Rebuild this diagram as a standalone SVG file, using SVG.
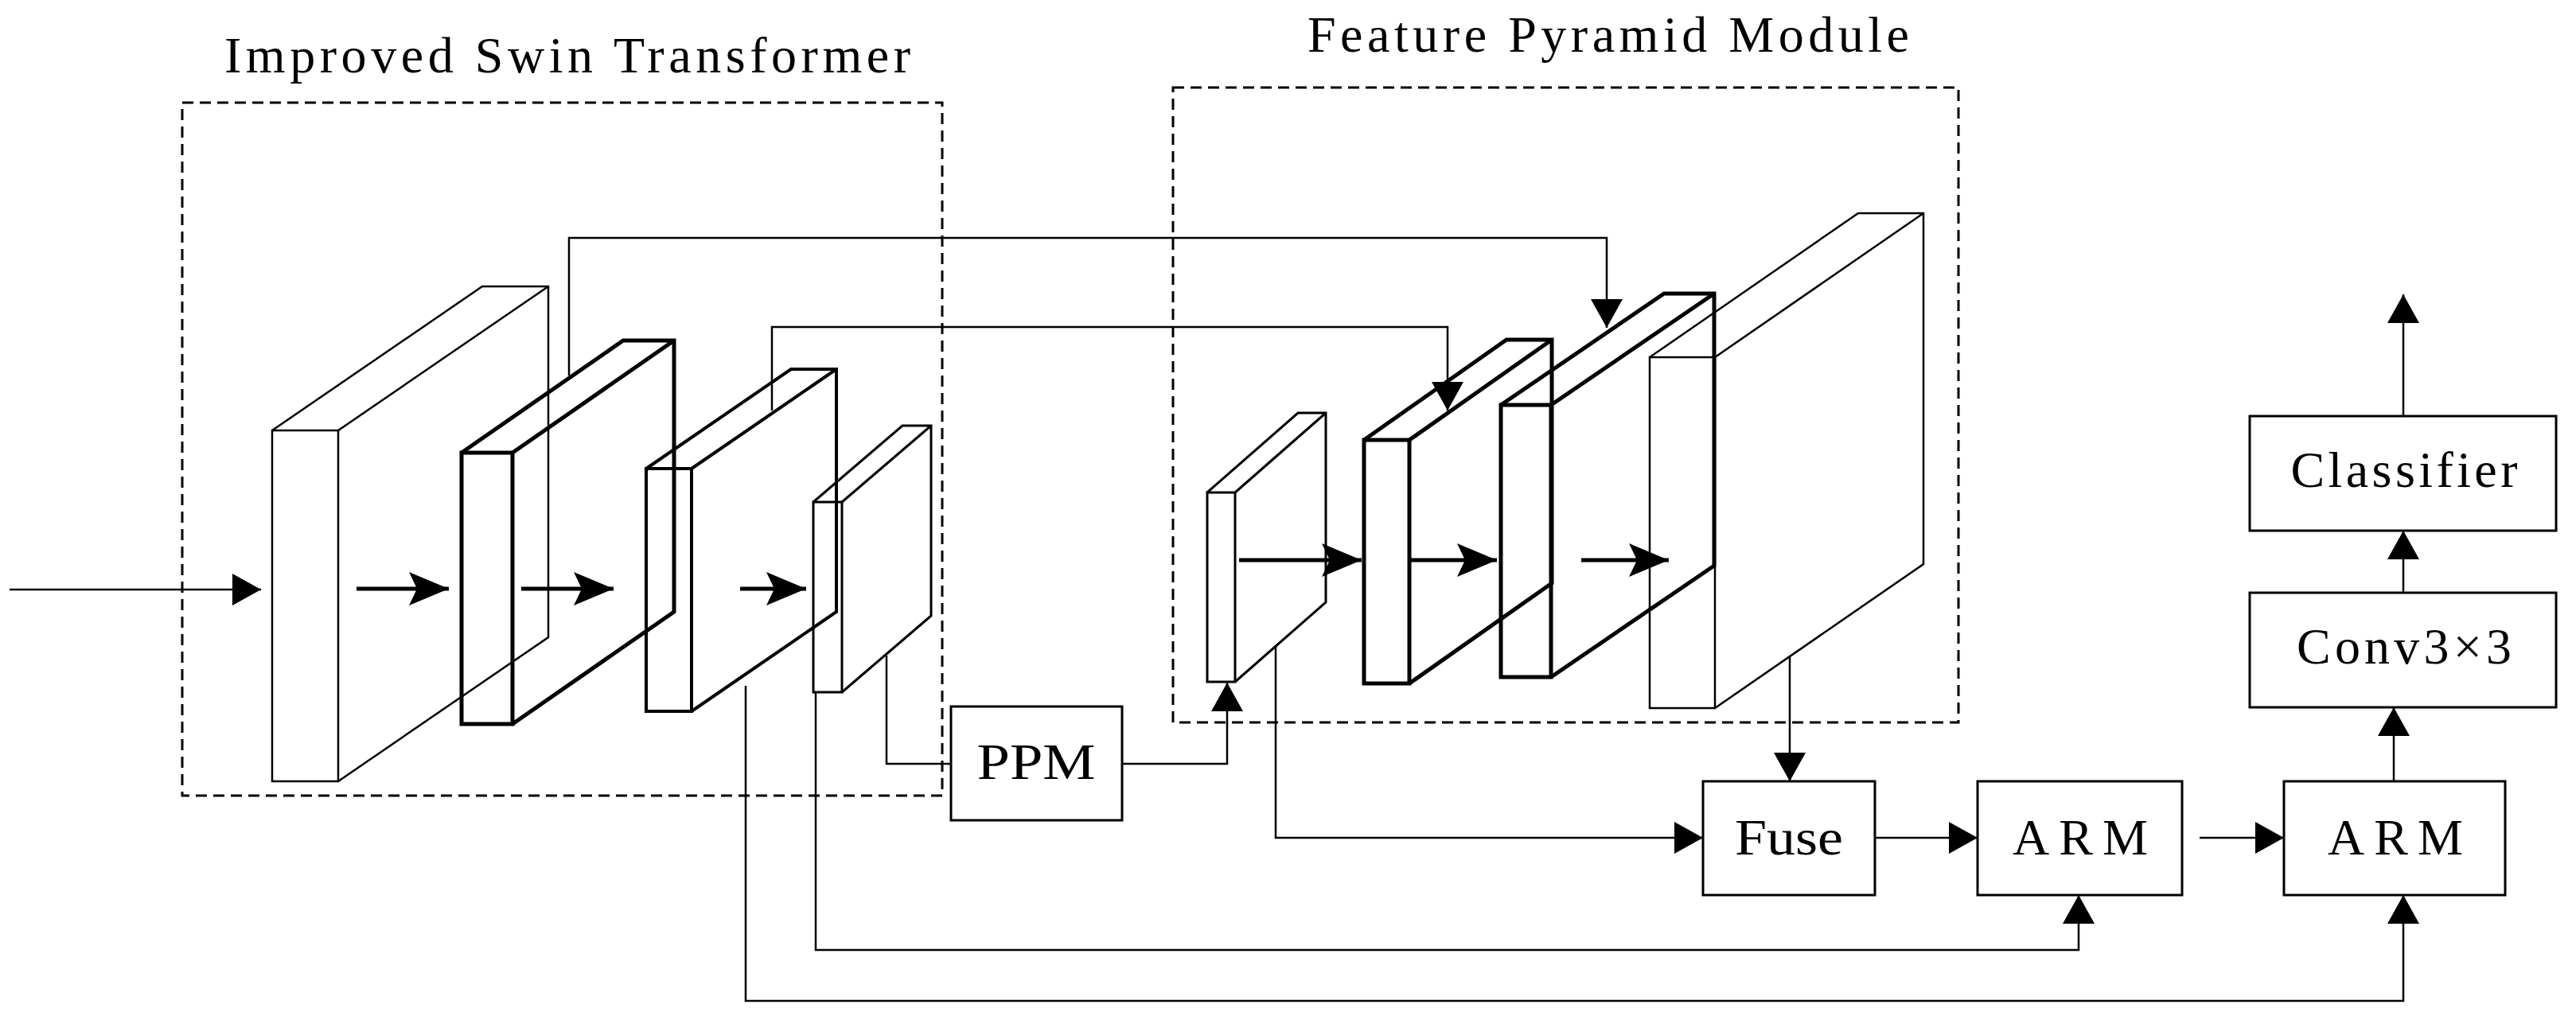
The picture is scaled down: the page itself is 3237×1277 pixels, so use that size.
<svg xmlns="http://www.w3.org/2000/svg" width="3237" height="1277" viewBox="0 0 3237 1277">
<style>
.t{font-family:"Liberation Serif","Times New Roman",serif;fill:#000}
.ln{fill:none;stroke:#000;stroke-width:2.5}
.box{fill:#fff;stroke:#000;stroke-width:3}
.dash{fill:none;stroke:#000;stroke-width:3;stroke-dasharray:14 8}
.blk{fill:none;stroke:#000;stroke-linejoin:miter}
.bold{fill:none;stroke:#000;stroke-width:5}
</style>
<defs>
<marker id="ah" markerUnits="userSpaceOnUse" markerWidth="40" markerHeight="44" refX="36" refY="20" orient="auto"><path d="M0,0 L36,20 L0,40 Z" fill="#000"/></marker>
<marker id="bh" markerUnits="userSpaceOnUse" markerWidth="52" markerHeight="46" refX="50" refY="21" orient="auto"><path d="M0,0 L50,21 L0,42 L10,21 Z" fill="#000"/></marker>
</defs>
<rect width="3237" height="1277" fill="#fff"/>
<text class="t" x="713" y="91" font-size="64" text-anchor="middle" textLength="862" lengthAdjust="spacing">Improved Swin Transformer</text>
<text class="t" x="2021" y="65" font-size="64" text-anchor="middle" textLength="756" lengthAdjust="spacing">Feature Pyramid Module</text>
<rect class="dash" x="229" y="129" width="955" height="871"/>
<rect class="dash" x="1474" y="110" width="987" height="798"/>
<g id="st1" class="blk" stroke-width="2.5"><rect x="342" y="541" width="83" height="441"/><path d="M342,541 L606,360 L689,360 L689,801 L425,982 M425,541 L689,360"/></g>
<g id="st2" class="blk" stroke-width="5"><rect x="580" y="569" width="64" height="341"/><path d="M580,569 L783,428 L847,428 L847,769 L644,910 M644,569 L847,428"/></g>
<g id="st3" class="blk" stroke-width="4"><rect x="812" y="589" width="57" height="305"/><path d="M812,589 L994,464 L1051,464 L1051,769 L869,894 M869,589 L1051,464"/></g>
<g id="st4" class="blk" stroke-width="3"><rect x="1022" y="631" width="36" height="239"/><path d="M1022,631 L1134,535 L1170,535 L1170,774 L1058,870 M1058,631 L1170,535"/></g>
<g id="fa" class="blk" stroke-width="3"><rect x="1517" y="619" width="35" height="238"/><path d="M1517,619 L1631,519 L1666,519 L1666,757 L1552,857 M1552,619 L1666,519"/></g>
<g id="fb" class="blk" stroke-width="5"><rect x="1714" y="553" width="57" height="306"/><path d="M1714,553 L1893,427 L1950,427 L1950,733 L1771,859 M1771,553 L1950,427"/></g>
<g id="fc" class="blk" stroke-width="5"><rect x="1886" y="509" width="63" height="342"/><path d="M1886,509 L2091,369 L2154,369 L2154,711 L1949,851 M1949,509 L2154,369"/></g>
<g id="fd" class="blk" stroke-width="2.5"><rect x="2073" y="449" width="82" height="441"/><path d="M2073,449 L2335,268 L2417,268 L2417,709 L2155,890 M2155,449 L2417,268"/></g>
<g id="ppm"><rect class="box" x="1195" y="888" width="215" height="143"/><text class="t" x="1302" y="979" font-size="64" text-anchor="middle" textLength="149" lengthAdjust="spacingAndGlyphs">PPM</text></g>
<g id="fuse"><rect class="box" x="2140" y="982" width="216" height="143"/><text class="t" x="2248" y="1074" font-size="64" text-anchor="middle" textLength="136" lengthAdjust="spacingAndGlyphs">Fuse</text></g>
<g id="arm1"><rect class="box" x="2485" y="982" width="257" height="143"/><text class="t" x="2614" y="1074" font-size="64" text-anchor="middle" textLength="170" lengthAdjust="spacing">ARM</text></g>
<g id="arm2"><rect class="box" x="2870" y="982" width="278" height="143"/><text class="t" x="3010" y="1074" font-size="64" text-anchor="middle" textLength="170" lengthAdjust="spacing">ARM</text></g>
<g id="conv"><rect class="box" x="2827" y="745" width="385" height="144"/><text class="t" x="3021" y="834" font-size="64" text-anchor="middle" textLength="270" lengthAdjust="spacing">Conv3×3</text></g>
<g id="cls"><rect class="box" x="2827" y="523" width="385" height="144"/><text class="t" x="3021" y="612" font-size="64" text-anchor="middle" textLength="285" lengthAdjust="spacing">Classifier</text></g>
<g id="connectors">
<path class="ln" d="M12,741 L328,741" marker-end="url(#ah)"/>
<path class="bold" d="M448,740 L564,740" marker-end="url(#bh)"/>
<path class="bold" d="M655,740 L771,740" marker-end="url(#bh)"/>
<path class="bold" d="M930,740 L1013,740" marker-end="url(#bh)"/>
<path class="bold" d="M1557,704 L1711,704" marker-end="url(#bh)"/>
<path class="bold" d="M1773,704 L1881,704" marker-end="url(#bh)"/>
<path class="bold" d="M1987,704 L2097,704" marker-end="url(#bh)"/>
<path class="ln" d="M715,472 L715,299 L2019,299 L2019,412" marker-end="url(#ah)"/>
<path class="ln" d="M970,516 L970,411 L1819,411 L1819,516" marker-end="url(#ah)"/>
<path class="ln" d="M1114,824 L1114,960 L1195,960"/>
<path class="ln" d="M1410,960 L1542,960 L1542,858" marker-end="url(#ah)"/>
<path class="ln" d="M1603,812 L1603,1053 L2140,1053" marker-end="url(#ah)"/>
<path class="ln" d="M2249,826 L2249,982" marker-end="url(#ah)"/>
<path class="ln" d="M2356,1053 L2485,1053" marker-end="url(#ah)"/>
<path class="ln" d="M2764,1053 L2870,1053" marker-end="url(#ah)"/>
<path class="ln" d="M1025,870 L1025,1194 L2612,1194 L2612,1125" marker-end="url(#ah)"/>
<path class="ln" d="M937,862 L937,1258 L3020,1258 L3020,1125" marker-end="url(#ah)"/>
<path class="ln" d="M3008,982 L3008,889" marker-end="url(#ah)"/>
<path class="ln" d="M3020,745 L3020,667" marker-end="url(#ah)"/>
<path class="ln" d="M3020,523 L3020,370" marker-end="url(#ah)"/>
</g>
</svg>
